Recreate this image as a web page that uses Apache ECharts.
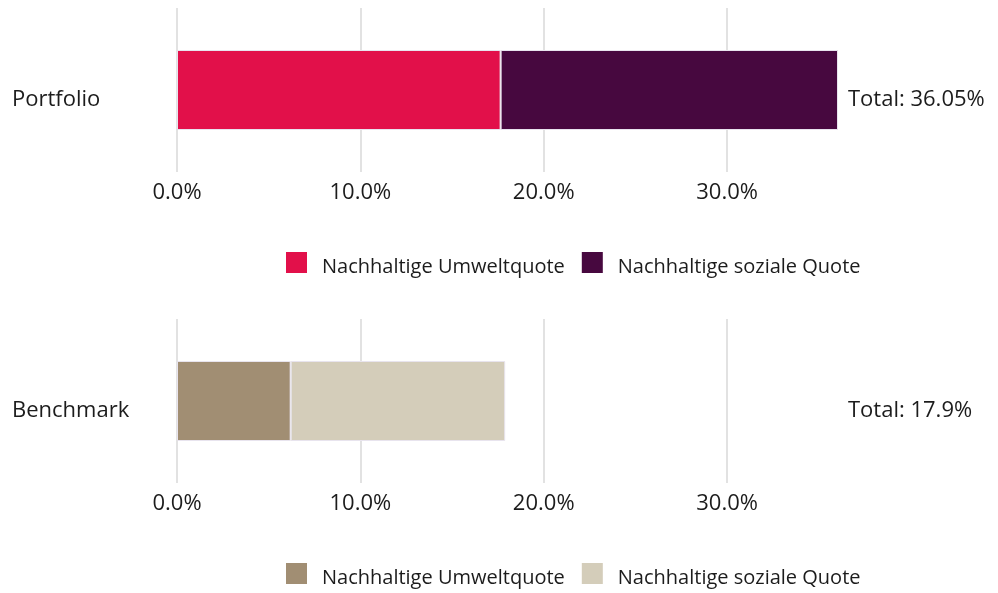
<!DOCTYPE html>
<html>
<head>
<meta charset="utf-8">
<script src="https://cdn.jsdelivr.net/npm/echarts@6/dist/echarts.min.js"></script>
<style>
  html, body { margin: 0; padding: 0; background: #ffffff; }
  #chart { width: 998px; height: 593px; }
</style>
</head>
<body>
<div id="chart"></div>
<script>
const categories = ['Portfolio', 'Benchmark'];
const seriesNames = ['Nachhaltige Umweltquote', 'Nachhaltige soziale Quote'];
const envValues = [17.65, 6.2];
const socialValues = [18.4, 11.7];
const totals = [36.05, 17.9];
const axisMax = 36.05;
const tickInterval = 10;

const palettes = [
  ['#E2104A', '#47083F'],
  ['#A18E73', '#D4CDBA']
];
const FONT = 'Open Sans';
const TEXT = '#1c1c1c';

const gridTops = [8, 319];
const legendTops = [252, 563];

const chart = echarts.init(document.getElementById('chart'), null, { renderer: 'canvas' });

const grids = [], xAxes = [], yAxes = [], series = [], legends = [];
categories.forEach((cat, i) => {
  grids.push({ left: 177, right: 160, top: gridTops[i], height: 164, containLabel: false });
  xAxes.push({
    type: 'value', gridIndex: i, min: 0, max: axisMax, interval: tickInterval,
    axisLine: { show: false }, axisTick: { show: false },
    axisLabel: { show: true, showMaxLabel: false, margin: 10, color: TEXT, fontFamily: FONT, fontSize: 22,
      formatter: v => (v % tickInterval === 0 ? v.toFixed(1) + '%' : '') },
    splitLine: { show: true, showMaxLine: false, lineStyle: { color: '#d9d9d9', width: 1.5 } }
  });
  yAxes.push({
    type: 'category', gridIndex: i, data: [cat],
    axisLine: { show: false }, axisTick: { show: false },
    axisLabel: { align: 'left', verticalAlign: 'top', lineHeight: 20, margin: 165, color: TEXT, fontFamily: FONT, fontSize: 22 }
  });
  yAxes.push({
    type: 'category', gridIndex: i, position: 'right', data: ['Total: ' + totals[i] + '%'],
    axisLine: { show: false }, axisTick: { show: false },
    axisLabel: { margin: 10, verticalAlign: 'top', lineHeight: 20, color: TEXT, fontFamily: FONT, fontSize: 22 }
  });
  const vals = [envValues[i], socialValues[i]];
  seriesNames.forEach((nm, j) => {
    series.push({
      type: 'bar', name: nm, xAxisIndex: i, yAxisIndex: i * 2, stack: 'total' + i,
      barWidth: 80, data: [vals[j]],
      itemStyle: { color: palettes[i][j], borderColor: '#e8e4ee', borderWidth: 1 },
      emphasis: { disabled: true }
    });
  });
  legends.push({
    left: 286, top: legendTops[i], orient: 'horizontal', padding: 0,
    itemWidth: 21, itemHeight: 31, itemGap: 17,
    icon: 'path://M0 0H21V21H0Z M0 31H21V31H0Z',
    selectedMode: false,
    textStyle: { color: TEXT, fontFamily: FONT, fontSize: 20, padding: [0, 0, 0, 10] },
    data: seriesNames.map((nm, j) => ({ name: nm, itemStyle: { color: palettes[i][j], borderWidth: 0 } }))
  });
});

chart.setOption({
  animation: false,
  backgroundColor: '#ffffff',
  grid: grids, xAxis: xAxes, yAxis: yAxes, series: series, legend: legends
});
</script>
</body>
</html>
